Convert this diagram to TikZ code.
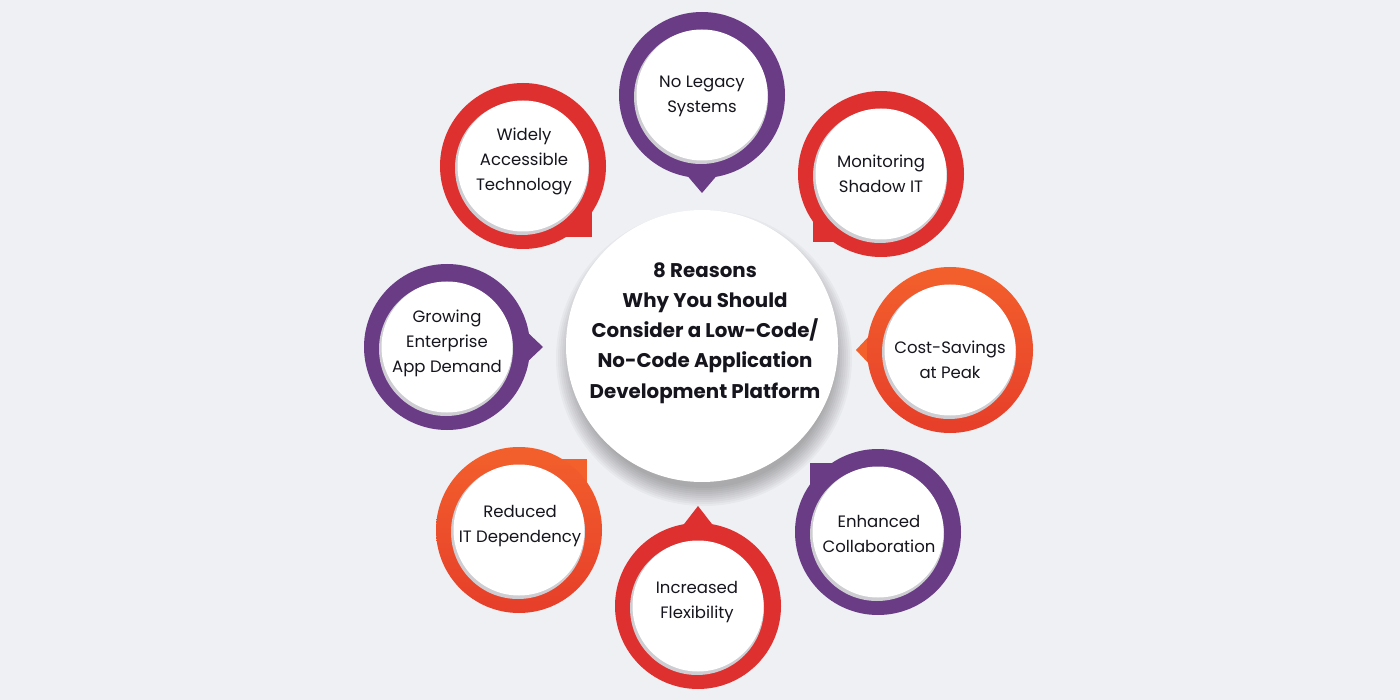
\documentclass[tikz,border=0pt]{standalone}
\usepackage{fontspec}
\setmainfont{Poppins}
\definecolor{bg}{RGB}{239,240,244}
\definecolor{pur}{RGB}{106,60,134}
\definecolor{redc}{RGB}{222,48,47}
\definecolor{orA}{RGB}{243,96,44}
\definecolor{orB}{RGB}{230,62,42}
\definecolor{rim}{RGB}{205,205,210}
\definecolor{txt}{RGB}{22,20,28}
\tikzset{
  lbl/.style={align=center, font=\fontsize{16.5}{25}\selectfont, text=txt, inner sep=0pt},
  ttl/.style={align=center, font=\bfseries\fontsize{19.8}{30.2}\selectfont, text=txt, inner sep=0pt},
}
\newcommand\ringin[2]{%
  \fill[rim] (#1-1,#2+2) circle[radius=67pt];
  \fill[white] (#1,#2) circle[radius=65.5pt];}
\begin{document}
\begin{tikzpicture}[x=1pt,y=-1pt]
\fill[bg] (0,0) rectangle (1400,700);
\useasboundingbox (0,0) rectangle (1400,700);
% centre circle with soft shadow
\foreach \i in {0,...,9}{
  \fill[black, opacity=0.03] (704,358) circle[radius=130pt+2pt*\i];
}
\fill[white] (702,346) circle[radius=136pt];
\node[ttl] (title) at (705,333) {8 Reasons\\Why You Should\\Consider a Low-Code/\\No-Code Application\\Development Platform};

% 1 No Legacy Systems (purple, pointer down)
\fill[pur] (702,95) circle[radius=83pt];
\fill[pur] (685,173) -- (702,193) -- (719,173) -- cycle;
\ringin{702}{95}
\node[lbl] (t1) at (702,96) {No Legacy\\Systems};

% 2 Monitoring Shadow IT (red, corner lower-left)
\fill[redc] (881,174) circle[radius=83pt];
\fill[redc] (881,174) rectangle (813,242);
\ringin{881}{174}
\node[lbl] (t2) at (881,174) {Monitoring\\Shadow IT};

% 3 Cost-Savings at Peak (orange, pointer left)
\fill[orA] (872,333) -- (856,350) -- (872,367) -- cycle;
\shade[top color=orA, bottom color=orB] (950,350) circle[radius=83pt];
\ringin{950}{350}
\node[lbl] (t3) at (950,360) {Cost-Savings\\at Peak};

% 4 Enhanced Collaboration (purple, corner upper-left)
\fill[pur] (878,532) circle[radius=83pt];
\fill[pur] (878,532) rectangle (810,463);
\ringin{878}{532}
\node[lbl] (t4) at (879,534) {Enhanced\\Collaboration};

% 5 Increased Flexibility (red, pointer up)
\fill[redc] (698,606) circle[radius=83pt];
\fill[redc] (681,528) -- (698,506) -- (715,528) -- cycle;
\ringin{698}{606}
\node[lbl] (t5) at (697,602) {Increased\\Flexibility};

% 6 Reduced IT Dependency (orange, corner upper-right)
\fill[orA] (519,530) rectangle (587,459);
\shade[top color=orA, bottom color=orB] (519,530) circle[radius=83pt];
\ringin{519}{530}
\node[lbl] (t6) at (520,526) {Reduced\\IT Dependency};

% 7 Growing Enterprise App Demand (purple, pointer right)
\fill[pur] (447,347) circle[radius=83pt];
\fill[pur] (525,330) -- (543,347) -- (525,364) -- cycle;
\ringin{447}{347}
\node[lbl] (t7) at (447,343) {Growing\\Enterprise\\App Demand};

% 8 Widely Accessible Technology (red, corner lower-right)
\fill[redc] (523,166) circle[radius=83pt];
\fill[redc] (523,166) rectangle (592,237);
\ringin{523}{166}
\node[lbl] (t8) at (524,161) {Widely\\Accessible\\Technology};
\end{tikzpicture}
\end{document}
